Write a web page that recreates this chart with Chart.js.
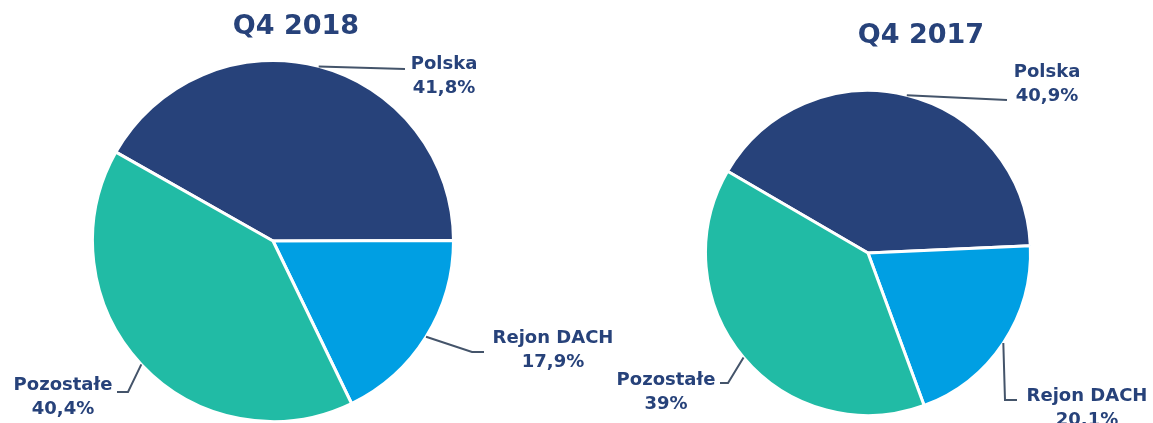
<!DOCTYPE html>
<html lang="pl">
<head>
<meta charset="UTF-8">
<title>Q4 2018 / Q4 2017</title>
<style>
html, body { margin: 0; padding: 0; background: #fff; }
body { width: 1153px; height: 423px; position: relative; overflow: hidden; }
.box { position: absolute; left: 0; top: 0; width: 1153px; height: 423px; }
</style>
</head>
<body>
<div class="box"><canvas id="pie2018"></canvas></div>
<div class="box"><canvas id="pie2017"></canvas></div>

<script src="https://cdn.jsdelivr.net/npm/chart.js"></script>
<script>
const categories = ['Polska', 'Rejon DACH', 'Pozostałe'];
const values2018 = [41.8, 17.9, 40.4];
const values2017 = [40.9, 20.1, 39];
const colors = ['#27427a', '#009fe3', '#21bba5'];

const navy = '#27427a';
const lineColor = '#44546a';
const fontFamily = '"DejaVu Sans", Verdana, sans-serif';

function fmt(v) {
    return String(v).replace('.', ',') + '%';
}

// rysuje tytul, linie odniesienia i etykiety
const pieLabels = {
    id: 'pieLabels',
    afterDatasetsDraw(chart, args, opts) {
        const ctx = chart.ctx;
        const arcs = chart.getDatasetMeta(0).data;
        const values = chart.data.datasets[0].data;
        ctx.save();

        // tytul
        ctx.fillStyle = navy;
        ctx.font = 'bold 27px ' + fontFamily;
        ctx.textAlign = 'center';
        ctx.textBaseline = 'alphabetic';
        ctx.fillText(opts.title, opts.titleX, opts.titleY);

        arcs.forEach(function(arc, i) {
            const p = arc.getProps(['x', 'y', 'startAngle', 'endAngle', 'outerRadius'], true);
            const mid = (p.startAngle + p.endAngle) / 2;
            const sx = p.x + Math.cos(mid) * p.outerRadius;
            const sy = p.y + Math.sin(mid) * p.outerRadius;

            ctx.strokeStyle = lineColor;
            ctx.lineWidth = 2;
            ctx.beginPath();
            ctx.moveTo(sx, sy);
            opts.leaders[i].forEach(function(pt) {
                ctx.lineTo(pt[0], pt[1]);
            });
            ctx.stroke();

            const lp = opts.labelPos[i];
            ctx.fillStyle = navy;
            ctx.font = 'bold 18px ' + fontFamily;
            ctx.fillText(chart.data.labels[i], lp[0], lp[1]);
            ctx.fillText(fmt(values[i]), lp[0], lp[1] + 24);
        });
        ctx.restore();
    }
};

function makePie(id, values, rotation, padding, extra) {
    return new Chart(document.getElementById(id), {
        type: 'pie',
        data: {
            labels: categories,
            datasets: [{
                data: values,
                backgroundColor: colors,
                borderColor: '#ffffff',
                borderWidth: 3
            }]
        },
        options: {
            responsive: true,
            maintainAspectRatio: false,
            animation: false,
            rotation: rotation,
            layout: { padding: padding },
            plugins: {
                legend: { display: false },
                tooltip: { enabled: false },
                pieLabels: extra
            }
        },
        plugins: [pieLabels]
    });
}

makePie('pie2018', values2018, -60.5,
    { left: 91, right: 698, top: 59, bottom: 0 },
    {
        title: 'Q4 2018', titleX: 296, titleY: 34,
        leaders: [ [[405, 69]], [[472, 352], [484, 352]], [[128, 392], [117, 392]] ],
        labelPos: [ [444, 69], [553, 343], [63, 390] ]
    });

makePie('pie2017', values2017, -59.8,
    { left: 704, right: 121, top: 89, bottom: 6 },
    {
        title: 'Q4 2017', titleX: 921, titleY: 43,
        leaders: [ [[1007, 100]], [[1005, 400], [1017, 400]], [[728, 383], [720, 383]] ],
        labelPos: [ [1047, 77], [1087, 401], [666, 385] ]
    });
</script>
</body>
</html>
